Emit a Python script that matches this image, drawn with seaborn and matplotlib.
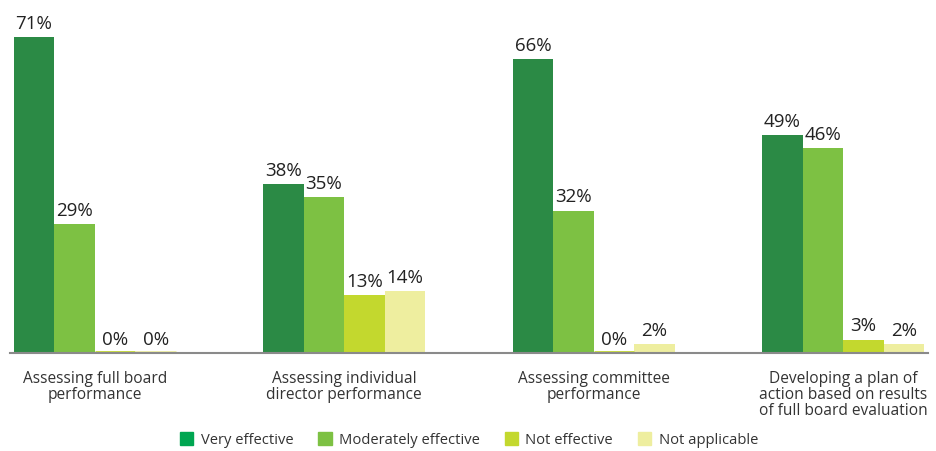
import matplotlib
matplotlib.use("Agg")
import matplotlib.pyplot as plt
import seaborn as sns
import pandas as pd
from matplotlib.patches import Patch

categories = [
    "Assessing full board\nperformance",
    "Assessing individual\ndirector performance",
    "Assessing committee\nperformance",
    "Developing a plan of\naction based on results\nof full board evaluation",
]
series = ["Very effective", "Moderately effective", "Not effective", "Not applicable"]
very_effective = [71, 38, 66, 49]
moderately_effective = [29, 35, 32, 46]
not_effective = [0, 13, 0, 3]
not_applicable = [0, 14, 2, 2]

bar_colors = ["#2b8a45", "#7dc143", "#c3d82e", "#eeee9f"]
legend_colors = ["#00a651", "#7dc143", "#c3d82e", "#eeee9f"]

rows = []
for s, vals in zip(series, [very_effective, moderately_effective, not_effective, not_applicable]):
    for c, v in zip(categories, vals):
        rows.append({"category": c, "series": s, "value": v})
df = pd.DataFrame(rows)

sns.set_theme(style="white")
plt.rcParams["font.family"] = ["Open Sans", "DejaVu Sans"]

fig = plt.figure(figsize=(9.36, 4.51), dpi=100)
ax = fig.add_axes([10 / 936, (451 - 353) / 451, 918 / 936, 353 / 451])

sns.barplot(data=df, x="category", y="value", hue="series", order=categories,
            hue_order=series, palette=bar_colors, width=0.65, dodge=True,
            errorbar=None, ax=ax, legend=False, saturation=1)

for container, col in zip(ax.containers, bar_colors):
    for patch in container:
        patch.set_edgecolor("none")
        if patch.get_height() == 0:
            x0 = patch.get_x()
            ax.plot([x0, x0 + patch.get_width()], [0.25, 0.25], color=col,
                    linewidth=2, solid_capstyle="butt", zorder=3)
    ax.bar_label(container, labels=[f"{int(v.get_height())}%" for v in container],
                 padding=3, fontsize=13.5, color="#222222")

ax.set_xlim(-0.34, 3.34)
ax.set_ylim(0, 79.3)
ax.set_xlabel("")
ax.set_ylabel("")
ax.set_yticks([])
ax.tick_params(axis="x", length=0, pad=13, labelsize=11.2, labelcolor="#333333")
ax.set_xticks(range(len(categories)))
ax.set_xticklabels(categories, linespacing=1.0)
for sp in ["top", "right", "left"]:
    ax.spines[sp].set_visible(False)
ax.spines["bottom"].set_color("#8a8a8a")
ax.spines["bottom"].set_linewidth(1.5)
ax.spines["bottom"].set_zorder(4)

handles = [Patch(facecolor=c, edgecolor=c, label=s) for c, s in zip(legend_colors, series)]
fig.legend(handles=handles, loc="center", bbox_to_anchor=(469 / 936, 1 - 440 / 451),
           ncol=4, frameon=False, fontsize=10.6, handlelength=0.9, handleheight=0.9,
           handletextpad=0.5, columnspacing=1.7, labelcolor="#333333")

fig.savefig("out.png", dpi=100)
